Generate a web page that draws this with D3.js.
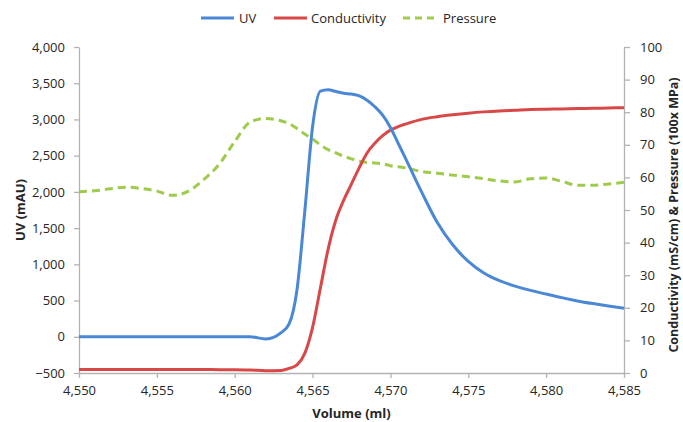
<!DOCTYPE html>
<html>
  <head>
    <meta charset="utf-8" />
    <style>
      body { margin: 0; background: #fff; }
      text { font-family: 'Open Sans', 'Noto Sans', sans-serif; fill: #262626; }
    </style>
  </head>
  <body>

<svg id="graph"></svg>

<script src="https://d3js.org/d3.v7.min.js"></script>
<script>
// taille du svg
const WIDTH = 683
const HEIGHT = 422
// zone du graphique
const LEFT = 79
const RIGHT = 624
const TOP = 47
const BOTTOM = 373

// les données (volume en ml)
const VOLUME = [4550, 4551, 4552, 4553, 4554, 4555, 4556, 4557, 4558, 4559, 4560,
  4561, 4562, 4563, 4563.5, 4564, 4564.5, 4565, 4565.5, 4566, 4566.5, 4567, 4567.5,
  4568, 4568.5, 4569, 4569.5, 4570, 4570.5, 4571, 4572, 4573, 4574, 4575, 4576,
  4577, 4578, 4579, 4580, 4581, 4582, 4583, 4584, 4585]
// UV (mAU), axe de gauche
const UV = [0, 0, 0, 0, 0, 0, 0, 0, 0, 0, 0,
  0, -30, 60, 180, 650, 1730, 2900, 3390, 3410, 3385, 3362, 3350,
  3325, 3265, 3175, 3060, 2890, 2670, 2450, 2000, 1580, 1270, 1040, 880,
  775, 700, 640, 590, 540, 495, 458, 425, 395]
// conductivité (mS/cm), axe de droite
const CONDUCTIVITY = [1.1, 1.1, 1.1, 1.1, 1.1, 1.1, 1.1, 1.1, 1.1, 1.0, 1.0,
  0.9, 0.7, 0.8, 1.4, 2.5, 6, 14, 26, 38, 47, 53, 58,
  63, 67.5, 70.5, 72.8, 74.5, 75.6, 76.4, 77.8, 78.6, 79.2, 79.7, 80.1,
  80.4, 80.6, 80.8, 80.9, 81.0, 81.1, 81.2, 81.3, 81.4]
// pression (100x MPa), axe de droite
const PRESSURE = [55.6, 55.9, 56.5, 57.0, 56.6, 55.8, 54.5, 55.7, 59.3, 64, 71,
  77, 78.1, 77.3, 76.5, 75, 73.3, 71.8, 70, 68.5, 67.5, 66.5, 65.7,
  65, 64.6, 64.4, 64.2, 63.6, 63.3, 62.9, 61.8, 61.3, 60.7, 60.2, 59.6,
  58.9, 58.6, 59.6, 59.8, 58.8, 57.6, 57.6, 58.0, 58.5]

const X_TICKS = [4550, 4555, 4560, 4565, 4570, 4575, 4580, 4585]
const UV_TICKS = [-500, 0, 500, 1000, 1500, 2000, 2500, 3000, 3500, 4000]
const RIGHT_TICKS = [0, 10, 20, 30, 40, 50, 60, 70, 80, 90, 100]

const BLUE = '#4a88d6'
const RED = '#d84848'
const GREEN = '#9ecb4b'
const AXIS = '#b3b3b3'

const svg = d3.select('#graph')
  .attr('width', WIDTH)
  .attr('height', HEIGHT)

// échelles
const xScale = d3.scaleLinear().domain([4550, 4585]).range([LEFT, RIGHT])
const yLeft = d3.scaleLinear().domain([-500, 4000]).range([BOTTOM, TOP])
const yRight = d3.scaleLinear().domain([0, 100]).range([BOTTOM, TOP])

// axes
function styleAxis(g) {
  g.select('.domain').attr('stroke', AXIS).attr('stroke-width', 1.3)
  g.selectAll('.tick line').attr('stroke', AXIS).attr('stroke-width', 1.3)
  g.selectAll('.tick text').style('font-size', '13px').attr('fill', '#262626')
}

svg.append('g')
  .attr('transform', `translate(0, ${BOTTOM})`)
  .call(d3.axisBottom(xScale).tickValues(X_TICKS).tickSize(5).tickSizeOuter(0)
    .tickPadding(8).tickFormat(d3.format(',')))
  .call(styleAxis)

svg.append('g')
  .attr('transform', `translate(${LEFT}, 0)`)
  .call(d3.axisLeft(yLeft).tickValues(UV_TICKS).tickSize(5).tickSizeOuter(0)
    .tickPadding(9).tickFormat(d3.format(',')))
  .call(styleAxis)

svg.append('g')
  .attr('transform', `translate(${RIGHT}, 0)`)
  .call(d3.axisRight(yRight).tickValues(RIGHT_TICKS).tickSize(6).tickSizeOuter(0)
    .tickPadding(10))
  .call(styleAxis)

// titres des axes
svg.append('text')
  .attr('x', (LEFT + RIGHT) / 2)
  .attr('y', 418)
  .attr('text-anchor', 'middle')
  .style('font-size', '13px')
  .style('font-weight', 'bold')
  .text('Volume (ml)')

svg.append('text')
  .attr('transform', `translate(25, ${(TOP + BOTTOM) / 2}) rotate(-90)`)
  .attr('text-anchor', 'middle')
  .style('font-size', '13px')
  .style('font-weight', 'bold')
  .text('UV (mAU)')

svg.append('text')
  .attr('transform', `translate(678, ${(TOP + BOTTOM) / 2 + 5}) rotate(-90)`)
  .attr('text-anchor', 'middle')
  .style('font-size', '12.5px')
  .style('font-weight', 'bold')
  .text('Conductivity (mS/cm) & Pressure (100x MPa)')

// les courbes
const series = [
  { name: 'UV', values: UV, scale: yLeft, color: BLUE, dash: null },
  { name: 'Conductivity', values: CONDUCTIVITY, scale: yRight, color: RED, dash: null },
  { name: 'Pressure', values: PRESSURE, scale: yRight, color: GREEN, dash: '8,5' },
]

series.slice().reverse().forEach(s => {
  const line = d3.line()
    .x((d, i) => xScale(VOLUME[i]))
    .y(d => s.scale(d))
    .curve(d3.curveMonotoneX)
  svg.append('path')
    .datum(s.values)
    .attr('d', line)
    .attr('fill', 'none')
    .attr('stroke', s.color)
    .attr('stroke-width', 3)
    .attr('stroke-dasharray', s.dash)
})

// légende
const LEGEND = [
  { x: 201, textX: 239 },
  { x: 274, textX: 311 },
  { x: 403, textX: 443 },
]
const legend = svg.append('g')
series.forEach((s, i) => {
  legend.append('line')
    .attr('x1', LEGEND[i].x).attr('x2', LEGEND[i].x + 33)
    .attr('y1', 18).attr('y2', 18)
    .attr('stroke', s.color)
    .attr('stroke-width', 3)
    .attr('stroke-dasharray', s.dash ? '7,5' : null)
  legend.append('text')
    .attr('x', LEGEND[i].textX)
    .attr('y', 23)
    .style('font-size', '13px')
    .text(s.name)
})
</script>
  </body>
</html>
